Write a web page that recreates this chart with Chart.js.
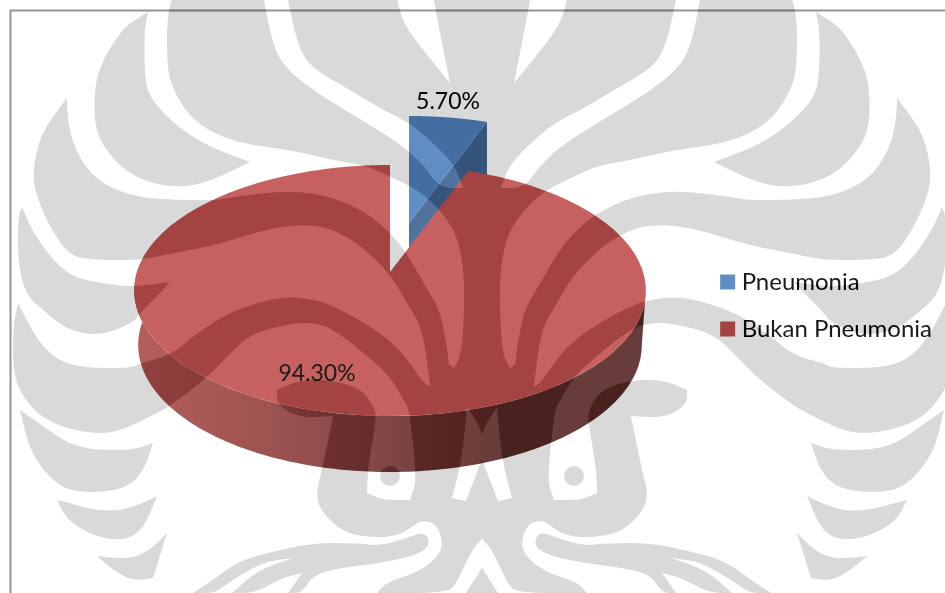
<!DOCTYPE html>
<html>
<head>
<meta charset="utf-8">
<title>Pneumonia</title>
<script src="https://cdn.jsdelivr.net/npm/chart.js@4/dist/chart.umd.min.js"></script>
<style>
  html, body { margin: 0; padding: 0; background: #fff; }
  canvas { display: block; }
</style>
</head>
<body>
<canvas id="pie3d" width="945" height="593"></canvas>
<script>
const categories = ['Pneumonia', 'Bukan Pneumonia'];
const percentages = [5.7, 94.3];
const sliceColors = ['#4F81BD', '#C0504D'];
const labelSpots = [[448, 102], [317, 374]];

// tilted disc: maps the unit circle to the top face, far side squeezed
const tiltX = 390, tiltK = 253, tiltC = 0.1474, tiltY = 272, tiltB = -82.7;
const explodeBlue = [19, -49];
const depth = 56;

function project(angle) {
  const u = Math.cos(angle), v = -Math.sin(angle);
  const d = 1 + tiltC * v;
  return { x: tiltX + tiltK * u / d, y: (tiltY + tiltB * v) / d };
}
// lower rim of the disc
function lowerRim(p) {
  return { x: 390 + (p.x - tiltX) * 252 / 256, y: 345 + (p.y - 290.5) * 127 / 125.5 };
}

function drawTop(ctx, arc, off) {
  ctx.beginPath();
  ctx.moveTo(tiltX + off[0], tiltY + off[1]);
  const steps = 160;
  for (let i = 0; i <= steps; i++) {
    const p = project(arc.startAngle + (arc.endAngle - arc.startAngle) * i / steps);
    ctx.lineTo(p.x + off[0], p.y + off[1]);
  }
  ctx.closePath();
  ctx.fill();
}

function drawRedWall(ctx) {
  const a0 = Math.asin(tiltC), top = [];
  for (let i = 0; i <= 200; i++) {
    top.push(project(-a0 + (Math.PI + 2 * a0) * i / 200 + 2 * a0));
  }
  const grad = ctx.createLinearGradient(135, 0, 645, 0);
  grad.addColorStop(0, 'rgb(172,76,73)');
  grad.addColorStop(0.23, 'rgb(150,66,64)');
  grad.addColorStop(0.52, 'rgb(110,48,46)');
  grad.addColorStop(0.72, 'rgb(86,38,36)');
  grad.addColorStop(1, 'rgb(86,38,36)');
  ctx.fillStyle = grad;
  ctx.beginPath();
  top.forEach((p, i) => (i ? ctx.lineTo(p.x, p.y) : ctx.moveTo(p.x, p.y)));
  top.slice().reverse().forEach(p => {
    const q = lowerRim(p);
    ctx.lineTo(q.x, q.y);
  });
  ctx.closePath();
  ctx.fill();
}

// crest printed across the page, left half only, mirrored on x = 482
const crestAxis = 482;
const crestShapes = [
  [[148,12],[144,33],[145,80],[150,97],[165,115],[185,132],[210,147],[250,162],[213,180],[187,187],[157,185],[127,173],[103,147],[94,123],[95,83],[103,60],[115,40],[127,25]],
  [[67,98],[68,123],[75,150],[95,180],[133,197],[177,200],[217,200],[233,197],[290,190],[333,197],[367,213],[390,232],[408,255],[420,277],[440,310],[445,337],[449,360],[448,380],[430,385],[423,330],[407,303],[392,277],[373,257],[353,240],[320,224],[273,227],[217,245],[173,253],[143,260],[100,260],[70,257],[50,227],[38,200],[33,180],[35,157],[43,130]],
  [[22,207],[32,230],[50,257],[72,277],[100,283],[133,287],[170,282],[160,293],[140,313],[133,323],[100,336],[67,330],[43,310],[27,296],[18,267],[18,217]],
  [[18,303],[37,340],[57,360],[83,368],[133,368],[140,363],[170,356],[197,333],[233,310],[283,296],[320,300],[353,316],[380,333],[397,347],[413,367],[423,383],[440,392],[407,406],[390,376],[367,356],[343,336],[320,323],[293,323],[253,333],[233,350],[207,378],[170,406],[157,413],[117,433],[83,433],[43,420],[20,393],[13,370],[13,326]],
  [[20,410],[30,453],[57,486],[83,493],[123,490],[143,473],[153,443],[133,450],[93,450],[67,443],[43,426]],
  [[57,500],[67,520],[93,536],[123,541],[143,530],[157,496],[143,503],[120,511],[93,510],[70,503]],
  [[97,556],[113,570],[133,581],[153,578],[167,533],[150,550],[133,558],[113,558]],
  // top mass with the central pillar
  [[486,-5],[433,-5],[440,33],[450,83],[423,50],[403,23],[396,-5],[287,-5],[297,43],[310,67],[350,90],[383,110],[408,122],[430,140],[455,165],[463,188],[440,188],[425,167],[408,150],[383,133],[350,113],[317,93],[287,70],[273,47],[263,-5],[173,-5],[167,17],[167,67],[173,90],[190,117],[213,133],[240,143],[267,147],[300,152],[333,160],[367,166],[382,173],[419,190],[442,212],[458,237],[465,280],[463,337],[460,357],[455,366],[455,380],[486,380]],
  // head and jaw
  [[486,350],[462,350],[458,362],[454,368],[448,364],[432,385],[407,406],[410,416],[417,480],[410,500],[383,500],[367,493],[368,466],[377,416],[373,406],[363,390],[333,380],[300,380],[277,390],[277,405],[300,418],[333,416],[323,466],[316,493],[320,510],[343,533],[377,538],[400,535],[413,526],[422,520],[437,524],[444,546],[433,562],[413,574],[387,582],[377,593],[447,593],[457,583],[470,553],[482,538],[486,543]],
  // lower ribbon
  [[193,593],[213,580],[240,560],[280,550],[313,543],[357,543],[380,546],[407,538],[422,532],[429,538],[428,548],[413,556],[380,563],[340,568],[313,575],[302,593],[288,593],[302,573],[282,578],[255,593],[232,593],[258,570],[293,558],[262,562],[225,585],[215,593]],
  [[482,568],[466,593],[486,593],[486,574]]
];
const crestHoles = [
  [[467,407],[462,460],[452,498],[466,501],[479,467],[483,458],[483,432],[469,410]]
];
const crestDisc = [390, 476, 10];

function tracePolygon(ctx, pts) {
  const n = pts.length;
  const mid = (a, b) => [(a[0] + b[0]) / 2, (a[1] + b[1]) / 2];
  const start = mid(pts[n - 1], pts[0]);
  ctx.moveTo(start[0], start[1]);
  pts.forEach((v, i) => {
    const prev = pts[(i + n - 1) % n], next = pts[(i + 1) % n];
    const a1 = Math.atan2(v[1] - prev[1], v[0] - prev[0]);
    const a2 = Math.atan2(next[1] - v[1], next[0] - v[0]);
    let turn = Math.abs(a2 - a1);
    if (turn > Math.PI) turn = 2 * Math.PI - turn;
    const m = mid(v, next);
    if (turn > 1.1) {
      ctx.lineTo(v[0], v[1]);
      ctx.lineTo(m[0], m[1]);
    } else {
      ctx.quadraticCurveTo(v[0], v[1], m[0], m[1]);
    }
  });
  ctx.closePath();
}

function bothSides(ctx, paint) {
  paint();
  ctx.save();
  ctx.translate(crestAxis * 2, 0);
  ctx.scale(-1, 1);
  paint();
  ctx.restore();
}

function buildCrestMask(w, h) {
  const c = document.createElement('canvas');
  c.width = w;
  c.height = h;
  const m = c.getContext('2d');
  m.fillStyle = '#000';
  bothSides(m, () => {
    crestShapes.forEach(s => {
      m.beginPath();
      tracePolygon(m, s);
      m.fill();
    });
  });
  m.globalCompositeOperation = 'destination-out';
  bothSides(m, () => {
    crestHoles.forEach(s => {
      m.beginPath();
      tracePolygon(m, s);
      m.fill();
    });
  });
  m.globalCompositeOperation = 'source-over';
  bothSides(m, () => {
    m.beginPath();
    m.arc(crestDisc[0], crestDisc[1], crestDisc[2], 0, Math.PI * 2);
    m.fill();
  });
  return c;
}

const pie3dPlugin = {
  id: 'pie3d',
  beforeDraw(chart) {
    const ctx = chart.ctx;
    ctx.save();
    ctx.fillStyle = '#fff';
    ctx.fillRect(0, 0, chart.width, chart.height);
    ctx.strokeStyle = '#8a8a8a';
    ctx.lineWidth = 2;
    ctx.beginPath();
    ctx.moveTo(945, 10.5);
    ctx.lineTo(10.5, 10.5);
    ctx.lineTo(10.5, 593);
    ctx.stroke();
    ctx.restore();
  },
  beforeDatasetsDraw(chart) {
    const ctx = chart.ctx;
    const arcs = chart.getDatasetMeta(0).data;
    ctx.save();

    // side wall of the pulled out slice, seen along its long edge
    const blue = arcs[0];
    const pb = project(blue.endAngle);
    ctx.fillStyle = 'rgb(62,98,145)';
    ctx.beginPath();
    ctx.moveTo(tiltX + explodeBlue[0], tiltY + explodeBlue[1]);
    ctx.lineTo(pb.x + explodeBlue[0], pb.y + explodeBlue[1]);
    ctx.lineTo(pb.x + explodeBlue[0], pb.y + explodeBlue[1] + depth);
    ctx.lineTo(tiltX + explodeBlue[0], tiltY + explodeBlue[1] + depth);
    ctx.closePath();
    ctx.fill();
    ctx.fillStyle = sliceColors[0];
    drawTop(ctx, blue, explodeBlue);

    drawRedWall(ctx);
    ctx.fillStyle = sliceColors[1];
    drawTop(ctx, arcs[1], [0, 0]);

    ctx.fillStyle = '#000';
    ctx.font = '23px Lato';
    ctx.textAlign = 'center';
    ctx.textBaseline = 'middle';
    percentages.forEach((val, i) => {
      ctx.fillText(val.toFixed(2) + '%', labelSpots[i][0], labelSpots[i][1]);
    });
    ctx.restore();
    return false; // the flat arcs are replaced by the tilted ones above
  },
  afterDraw(chart) {
    const ctx = chart.ctx;
    const mask = buildCrestMask(chart.width, chart.height);

    const grey = document.createElement('canvas');
    grey.width = chart.width;
    grey.height = chart.height;
    const g = grey.getContext('2d');
    g.drawImage(mask, 0, 0);
    g.globalCompositeOperation = 'source-in';
    g.fillStyle = '#d9d9d9';
    g.fillRect(0, 0, chart.width, chart.height);

    const veil = document.createElement('canvas');
    veil.width = chart.width;
    veil.height = chart.height;
    const f = veil.getContext('2d');
    f.fillStyle = 'rgba(255,255,255,0.1)';
    f.fillRect(0, 0, chart.width, chart.height);
    f.globalCompositeOperation = 'destination-out';
    f.drawImage(mask, 0, 0);

    ctx.save();
    ctx.globalCompositeOperation = 'multiply';
    ctx.drawImage(grey, 0, 0);
    ctx.globalCompositeOperation = 'source-over';
    ctx.drawImage(veil, 0, 0);
    ctx.restore();
  }
};

new Chart(document.getElementById('pie3d'), {
  type: 'pie',
  data: {
    labels: categories,
    datasets: [{
      data: percentages,
      backgroundColor: sliceColors,
      borderWidth: 0
    }]
  },
  options: {
    responsive: false,
    animation: false,
    layout: { padding: { top: 247, right: 3 } },
    plugins: {
      tooltip: { enabled: false },
      legend: {
        position: 'right',
        align: 'start',
        labels: {
          color: '#000',
          font: { family: 'Lato', size: 24 },
          usePointStyle: true,
          pointStyle: 'rect',
          boxWidth: 4,
          boxHeight: 15,
          padding: 23
        }
      }
    }
  },
  plugins: [pie3dPlugin]
});
</script>
</body>
</html>
